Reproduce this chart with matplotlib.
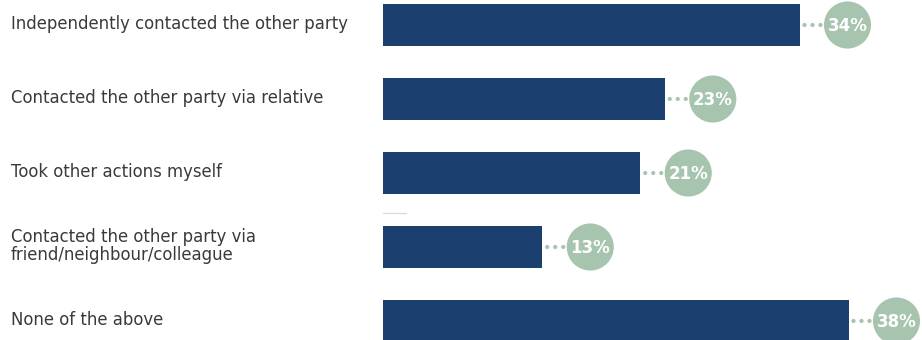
import matplotlib.pyplot as plt

# ================= DATA =================

categories = [
    "Independently contacted the other party",
    "Contacted the other party via relative",
    "Took other actions myself",
    "Contacted the other party via\nfriend/neighbour/colleague",
    "None of the above",
]
values = [34, 23, 21, 13, 38]

BAR_COLOR = "#1b3f6e"
BUBBLE_COLOR = "#a7c4ae"
TEXT_COLOR = "#3a3a3a"

# ================= FIGURE =================

fig = plt.figure(figsize=(9.22, 3.40), dpi=100)
ax = fig.add_axes([383 / 922, 0, 1 - 383 / 922, 1])

px = 12.25  # pixels per percentage point on the x axis
ax.set_xlim(0, (922 - 383) / px)
ax.set_ylim((340 - 25) / 74, -25 / 74)
ax.axis("off")

pos = list(range(len(values)))
ax.barh(pos, values, height=42 / 74, color=BAR_COLOR, zorder=2)

for i, v in zip(pos, values):
    # dotted leader from bar end to the value bubble
    dots_x = [v + d / px for d in (5, 13, 21)]
    ax.scatter(dots_x, [i] * 3, s=9, color=BUBBLE_COLOR, zorder=3,
               edgecolors="none")
    cx = v + 48 / px
    ax.scatter([cx], [i], s=1150, color=BUBBLE_COLOR, zorder=3,
               edgecolors="none", clip_on=False)
    ax.text(cx, i + 0.01, f"{v}%", color="white", fontsize=12,
            fontweight="bold", ha="center", va="center", zorder=4,
            family="DejaVu Sans")

# short light rule between the third and fourth rows
ax.plot([0, 23 / px], [(213 - 25) / 74] * 2, color="#d5dde6", lw=1, zorder=1)

# category labels on the left
for i, label in zip(pos, categories):
    fig.text(11 / 922, 1 - (25 + 74 * i - 1) / 340, label, color=TEXT_COLOR,
             fontsize=11.9, ha="left", va="center", family="DejaVu Sans",
             linespacing=1.05)

plt.savefig("out.png", dpi=100)
